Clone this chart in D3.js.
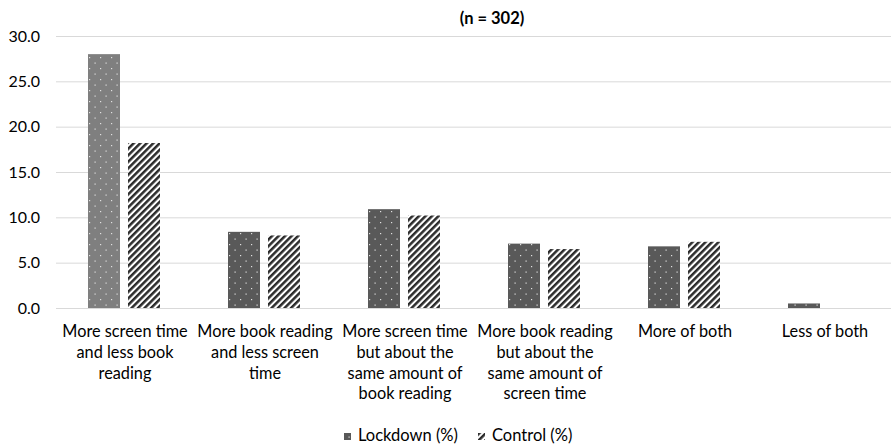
<!DOCTYPE html>
<html>
<head>
<meta charset="utf-8">
<script src="https://cdn.jsdelivr.net/npm/d3@7"></script>
<style>
  html, body { margin: 0; padding: 0; background: #fff; }
  svg { display: block; font-family: Lato, "Open Sans", sans-serif; }
</style>
</head>
<body>
<svg id="chart" width="891" height="445"></svg>
<script>
// Share of children per change in media habits (percent)
const categories = [
  "More screen time\nand less book\nreading",
  "More book reading\nand less screen\ntime",
  "More screen time\nbut about the\nsame amount of\nbook reading",
  "More book reading\nbut about the\nsame amount of\nscreen time",
  "More of both",
  "Less of both"
];
const seriesNames = ["Lockdown (%)", "Control (%)"];
const lockdown = [28.0, 8.4, 10.9, 7.1, 6.8, 0.5];
const control  = [18.2, 8.0, 10.2, 6.5, 7.3, 0.0];
const yTicks = [0, 5, 10, 15, 20, 25, 30];
const title = "(n = 302)";

const svg = d3.select("#chart");
const width = 891;
const plot = { left: 54, right: 894, top: 36, bottom: 308 };

const x0 = d3.scaleBand().domain(d3.range(categories.length))
  .range([plot.left, plot.right]).paddingInner(0).paddingOuter(0);
const groupSpan = 72;
const x1 = d3.scaleBand().domain(seriesNames)
  .range([(x0.bandwidth() - groupSpan) / 2, (x0.bandwidth() + groupSpan) / 2])
  .paddingInner(0.2).paddingOuter(0);
const y = d3.scaleLinear().domain([0, 30]).range([plot.bottom, plot.top]);

// Fill patterns: dotted for lockdown, wide diagonal hatch for control
const defs = svg.append("defs");
function dotPattern(id, bg) {
  const p = defs.append("pattern").attr("id", id)
    .attr("patternUnits", "userSpaceOnUse").attr("width", 11).attr("height", 11);
  p.append("rect").attr("width", 11).attr("height", 11).attr("fill", bg);
  p.append("rect").attr("x", 2).attr("y", 2).attr("width", 1.2).attr("height", 1.2).attr("fill", "#e0e0e0");
  p.append("rect").attr("x", 7.5).attr("y", 7.5).attr("width", 1.2).attr("height", 1.2).attr("fill", "#e0e0e0");
}
dotPattern("dotsLight", "#7f7f7f");
dotPattern("dotsDark", "#595959");
const hatch = defs.append("pattern").attr("id", "hatch")
  .attr("patternUnits", "userSpaceOnUse").attr("width", 4.6).attr("height", 4.6)
  .attr("patternTransform", "rotate(45)");
hatch.append("rect").attr("width", 4.6).attr("height", 4.6).attr("fill", "#ffffff");
hatch.append("rect").attr("width", 2.5).attr("height", 4.6).attr("fill", "#2b2b2b");

// Gridlines and value axis
const yAxis = d3.axisLeft(y).tickValues(yTicks).tickFormat(d3.format(".1f"))
  .tickSize(-(width - 56)).tickPadding(16);
const gy = svg.append("g").attr("transform", `translate(56,0)`).call(yAxis);
gy.select(".domain").remove();
gy.selectAll(".tick line").attr("stroke", "#d9d9d9").attr("stroke-width", 1);
gy.selectAll(".tick text").attr("fill", "#000").attr("font-size", 16)
  .attr("font-family", "Lato, sans-serif");

// Bars
const rows = categories.map((c, i) => ({ i, values: [lockdown[i], control[i]] }));
const groups = svg.append("g").selectAll("g").data(rows).join("g")
  .attr("transform", d => `translate(${x0(d.i)},0)`);
groups.selectAll("rect").data(d => d.values.map((v, s) => ({ v, s, i: d.i })))
  .join("rect")
  .attr("x", d => x1(seriesNames[d.s]))
  .attr("width", x1.bandwidth())
  .attr("y", d => y(d.v))
  .attr("height", d => y(0) - y(d.v))
  .attr("fill", d => d.s === 1 ? "url(#hatch)" : (d.i === 0 ? "url(#dotsLight)" : "url(#dotsDark)"));

// Category labels
const labels = svg.append("g").selectAll("text").data(categories).join("text")
  .attr("x", (d, i) => x0(i) + x0.bandwidth() / 2 + 1)
  .attr("y", 337)
  .attr("text-anchor", "middle")
  .attr("font-size", 16.3)
  .attr("fill", "#000");
labels.each(function (d) {
  const t = d3.select(this);
  d.split("\n").forEach((line, k) => {
    t.append("tspan").attr("x", t.attr("x")).attr("dy", k === 0 ? 0 : 20.8).text(line);
  });
});

// Title
svg.append("text").attr("x", 492).attr("y", 24).attr("text-anchor", "middle")
  .attr("font-size", 16.5).attr("font-weight", "bold").text(title);

// Legend
const legend = svg.append("g");
const legendItems = [
  { name: seriesNames[0], fill: "url(#dotsDark)", x: 344 },
  { name: seriesNames[1], fill: "url(#hatch)", x: 478 }
];
legendItems.forEach(it => {
  legend.append("rect").attr("x", it.x).attr("y", 433).attr("width", 7).attr("height", 7)
    .attr("fill", it.fill);
  legend.append("text").attr("x", it.x + 14).attr("y", 441).attr("font-size", 16.5)
    .attr("fill", "#000").text(it.name);
});
</script>
</body>
</html>
